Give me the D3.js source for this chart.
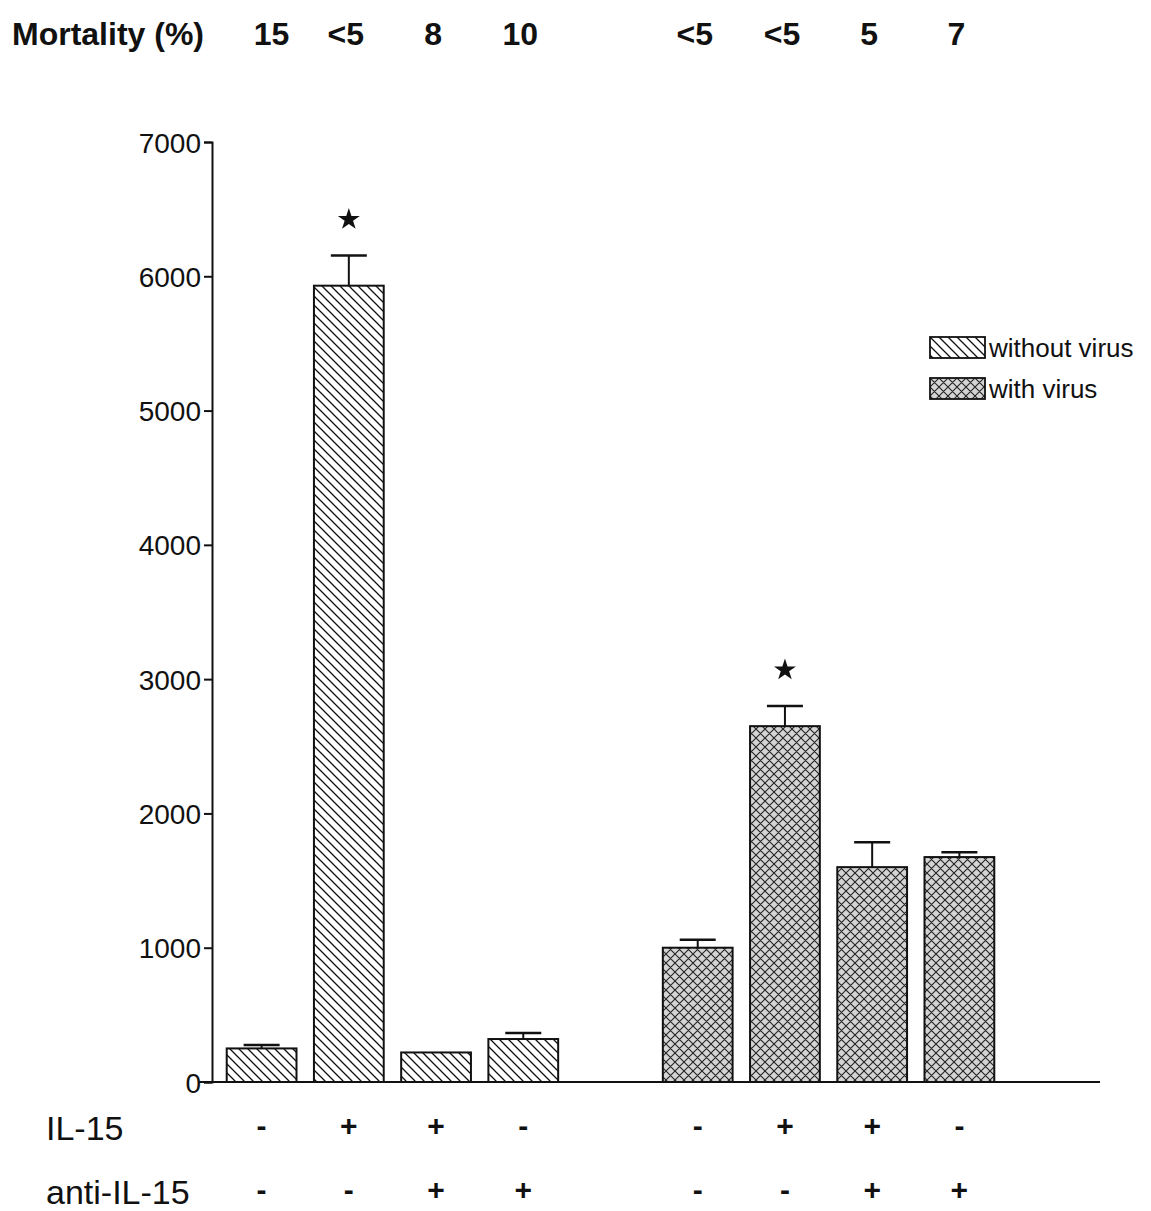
<!DOCTYPE html>
<html>
<head>
<meta charset="utf-8">
<script src="https://cdn.jsdelivr.net/npm/d3@7"></script>
<style>
  html, body { margin: 0; padding: 0; background: #fff; }
  svg { display: block; }
  .sans { font-family: "Liberation Sans", Arial, sans-serif; }
</style>
</head>
<body>
<div id="chart"></div>
<script>
// Chart values
const virusGroups = ['without virus', 'with virus'];
const il15 = ['-', '+', '+', '-'];
const antiIL15 = ['-', '-', '+', '+'];
const meanWithout = [250, 5930, 220, 320];
const errWithout = [25, 225, 0, 45];
const meanWith = [1000, 2650, 1600, 1675];
const errWith = [60, 150, 185, 35];
const mortalityWithout = ['15', '<5', '8', '10'];
const mortalityWith = ['<5', '<5', '5', '7'];
const starWithout = [false, true, false, false];
const starWith = [false, true, false, false];
const yTicks = [0, 1000, 2000, 3000, 4000, 5000, 6000, 7000];

const width = 1151, height = 1211;

const bars = [];
virusGroups.forEach((g, gi) => {
  const means = gi === 0 ? meanWithout : meanWith;
  const errs = gi === 0 ? errWithout : errWith;
  const mort = gi === 0 ? mortalityWithout : mortalityWith;
  const stars = gi === 0 ? starWithout : starWith;
  means.forEach((v, i) => {
    bars.push({ group: g, idx: i, value: v, err: errs[i], mortality: mort[i],
      star: stars[i], il15: il15[i], anti: antiIL15[i] });
  });
});

const svg = d3.select('#chart').append('svg')
  .attr('width', width)
  .attr('height', height);

// hatch patterns
const defs = svg.append('defs');
const diag = defs.append('pattern')
  .attr('id', 'hatch-without')
  .attr('patternUnits', 'userSpaceOnUse')
  .attr('width', 9).attr('height', 9);
diag.append('rect').attr('width', 9).attr('height', 9).attr('fill', '#fff');
diag.append('path')
  .attr('d', 'M-1,-1 L10,10 M-3,6 L3,12 M6,-3 L12,3')
  .attr('stroke', '#111').attr('stroke-width', 1.3);

const cross = defs.append('pattern')
  .attr('id', 'hatch-with')
  .attr('patternUnits', 'userSpaceOnUse')
  .attr('width', 9).attr('height', 9);
cross.append('rect').attr('width', 9).attr('height', 9).attr('fill', '#d4d4d4');
cross.append('path')
  .attr('d', 'M-1,-1 L10,10 M-3,6 L3,12 M6,-3 L12,3 M-1,10 L10,-1 M-3,3 L3,-3 M6,12 L12,6')
  .attr('stroke', '#222').attr('stroke-width', 1.1);

const fills = { 'without virus': 'url(#hatch-without)', 'with virus': 'url(#hatch-with)' };

// scales
const x0 = d3.scaleBand()
  .domain(virusGroups)
  .range([218, 1003])
  .paddingInner(0.2)
  .paddingOuter(0);

const x1 = d3.scaleBand()
  .domain(d3.range(4))
  .range([0, x0.bandwidth()])
  .paddingInner(0.2)
  .paddingOuter(0.1);

const y = d3.scaleLinear()
  .domain([0, 7000])
  .range([1082, 142]);

const barX = d => x0(d.group) + x1(d.idx);
const barC = d => barX(d) + x1.bandwidth() / 2;

// y axis
const yAxis = svg.append('g')
  .attr('class', 'sans')
  .attr('transform', 'translate(212,0)')
  .call(d3.axisLeft(y).tickValues(yTicks).tickSize(8).tickPadding(3).tickFormat(d3.format('d')));
yAxis.select('.domain').attr('stroke', '#111').attr('stroke-width', 2);
yAxis.selectAll('.tick line').attr('stroke', '#111').attr('stroke-width', 2);
yAxis.selectAll('.tick text')
  .attr('fill', '#111')
  .style('font-size', '28px')
  .attr('dy', '0.36em');

// x baseline
svg.append('line')
  .attr('x1', 198).attr('x2', 1100)
  .attr('y1', y(0)).attr('y2', y(0))
  .attr('stroke', '#111').attr('stroke-width', 2);

// bars
svg.selectAll('.bar')
  .data(bars)
  .enter()
  .append('rect')
  .attr('class', 'bar')
  .attr('x', barX)
  .attr('y', d => y(d.value))
  .attr('width', x1.bandwidth())
  .attr('height', d => y(0) - y(d.value))
  .attr('fill', d => fills[d.group])
  .attr('stroke', '#111')
  .attr('stroke-width', 2);

// error bars
const errBars = bars.filter(d => d.err > 0);
svg.selectAll('.err')
  .data(errBars)
  .enter()
  .append('line')
  .attr('x1', barC).attr('x2', barC)
  .attr('y1', d => y(d.value)).attr('y2', d => y(d.value + d.err))
  .attr('stroke', '#111').attr('stroke-width', 2);
svg.selectAll('.cap')
  .data(errBars)
  .enter()
  .append('line')
  .attr('x1', d => barC(d) - 18).attr('x2', d => barC(d) + 18)
  .attr('y1', d => y(d.value + d.err)).attr('y2', d => y(d.value + d.err))
  .attr('stroke', '#111').attr('stroke-width', 2.5);

// significance stars
svg.selectAll('.star')
  .data(bars.filter(d => d.star))
  .enter()
  .append('path')
  .attr('d', d3.symbol(d3.symbolStar).size(150))
  .attr('transform', d => `translate(${barC(d)},${y(d.value + d.err) - 36})`)
  .attr('fill', '#111');

// mortality row
svg.append('text')
  .attr('class', 'sans')
  .attr('x', 12).attr('y', 45)
  .style('font-size', '32px').style('font-weight', 'bold')
  .attr('fill', '#111')
  .text('Mortality (%)');
svg.selectAll('.mort')
  .data(bars)
  .enter()
  .append('text')
  .attr('class', 'sans')
  .attr('x', d => barC(d) + (d.idx === 0 && d.group === virusGroups[0] ? 10 : -3))
  .attr('y', 45)
  .attr('text-anchor', 'middle')
  .style('font-size', '32px').style('font-weight', 'bold')
  .attr('fill', '#111')
  .text(d => d.mortality);

// treatment rows
const rows = [
  { label: 'IL-15', key: 'il15', y: 1140 },
  { label: 'anti-IL-15', key: 'anti', y: 1204 }
];
rows.forEach(r => {
  svg.append('text')
    .attr('class', 'sans')
    .attr('x', 46).attr('y', r.y)
    .style('font-size', '34px')
    .attr('fill', '#111')
    .text(r.label);
  svg.selectAll('.sign-' + r.key)
    .data(bars)
    .enter()
    .append('text')
    .attr('class', 'sans')
    .attr('x', barC).attr('y', r.y - 4)
    .attr('text-anchor', 'middle')
    .style('font-size', '30px').style('font-weight', 'bold')
    .attr('fill', '#111')
    .text(d => d[r.key]);
});

// legend
const legend = svg.append('g').attr('transform', 'translate(930,337)');
virusGroups.forEach((g, i) => {
  const row = legend.append('g').attr('transform', `translate(0,${i * 41})`);
  row.append('rect')
    .attr('width', 55).attr('height', 21)
    .attr('fill', fills[g])
    .attr('stroke', '#111').attr('stroke-width', 1.8);
  row.append('text')
    .attr('class', 'sans')
    .attr('x', 59).attr('y', 20)
    .style('font-size', '26px')
    .attr('fill', '#111')
    .text(g);
});
</script>
</body>
</html>
